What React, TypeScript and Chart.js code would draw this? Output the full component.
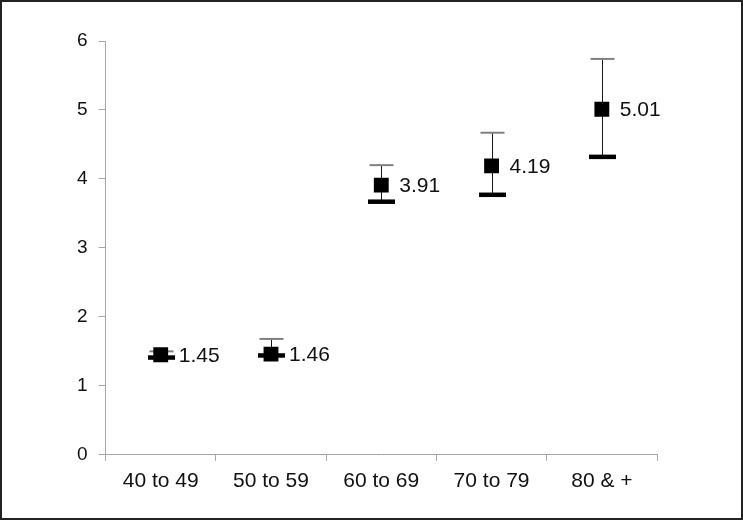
import React, { useEffect, useRef } from "react";
import { Chart, registerables } from "chart.js";

Chart.register(...registerables);

const categories = ["40 to 49", "50 to 59", "60 to 69", "70 to 79", "80 & +"];
const means = [1.45, 1.46, 3.91, 4.19, 5.01];
const upperValues = [1.5, 1.68, 4.2, 4.67, 5.74];
const lowerValues = [1.41, 1.44, 3.67, 3.77, 4.32];
const yTicks = [0, 1, 2, 3, 4, 5, 6];

const FONT = "'Liberation Sans', Arial, Helvetica, sans-serif";

const errorBarPlugin = {
  id: "errorBars",
  beforeDatasetsDraw(chart: any) {
    const { ctx, scales } = chart;
    const xs = scales.x;
    const ys = scales.y;
    ctx.save();
    categories.forEach((_, i) => {
      const x = Math.round(xs.getPixelForValue(i)) + 0.5;
      const yu = ys.getPixelForValue(upperValues[i]);
      const yl = ys.getPixelForValue(lowerValues[i]);
      ctx.strokeStyle = "#1a1a1a";
      ctx.lineWidth = 1;
      ctx.beginPath();
      ctx.moveTo(x, yu);
      ctx.lineTo(x, yl);
      ctx.stroke();
      ctx.strokeStyle = "#808080";
      ctx.lineWidth = 2;
      ctx.beginPath();
      ctx.moveTo(x - 12, yu);
      ctx.lineTo(x + 12, yu);
      ctx.stroke();
      ctx.strokeStyle = "#000000";
      ctx.lineWidth = 4.5;
      ctx.beginPath();
      ctx.moveTo(x - 13.5, yl);
      ctx.lineTo(x + 13.5, yl);
      ctx.stroke();
    });
    ctx.restore();
  },
  afterDatasetsDraw(chart: any) {
    const { ctx, scales } = chart;
    ctx.save();
    ctx.fillStyle = "#111111";
    ctx.font = `21px ${FONT}`;
    ctx.textAlign = "left";
    ctx.textBaseline = "middle";
    means.forEach((v, i) => {
      const x = scales.x.getPixelForValue(i);
      const y = scales.y.getPixelForValue(v);
      ctx.fillText(v.toFixed(2), x + 18, y + 1);
    });
    ctx.restore();
  },
};

export default function App() {
  const ref = useRef<HTMLCanvasElement>(null);
  useEffect(() => {
    const chart = new Chart(ref.current as HTMLCanvasElement, {
      type: "line",
      data: {
        labels: categories,
        datasets: [
          {
            data: means,
            showLine: false,
            pointStyle: "rect",
            pointRadius: 10.5,
            pointHoverRadius: 10.5,
            pointBackgroundColor: "#000000",
            pointBorderColor: "#000000",
            pointBorderWidth: 0,
          },
        ],
      },
      plugins: [errorBarPlugin],
      options: {
        responsive: false,
        animation: false,
        events: [],
        layout: { padding: { left: 66, right: 86, top: 41, bottom: 18 } },
        plugins: { legend: { display: false }, tooltip: { enabled: false } },
        scales: {
          x: {
            type: "category",
            offset: true,
            grid: {
              offset: true,
              display: true,
              drawOnChartArea: false,
              tickLength: 6,
              color: "#a6a6a6",
            },
            border: { color: "#a6a6a6", width: 1 },
            ticks: {
              color: "#111111",
              font: { family: FONT, size: 21 },
              padding: 8,
              maxRotation: 0,
            },
          },
          y: {
            type: "linear",
            min: 0,
            max: 6,
            afterBuildTicks: (axis: any) => {
              axis.ticks = yTicks.map((v) => ({ value: v }));
            },
            grid: {
              display: true,
              drawOnChartArea: false,
              tickLength: 7,
              color: "#a6a6a6",
            },
            border: { color: "#a6a6a6", width: 1 },
            ticks: {
              color: "#111111",
              font: { family: FONT, size: 19 },
              padding: 11,
            },
          },
        },
      },
    });
    return () => chart.destroy();
  }, []);
  return (
    <div style={{ position: "fixed", left: 0, top: 0, width: 743, height: 520, background: "#ffffff" }}>
      <canvas ref={ref} width={743} height={520} style={{ display: "block" }} />
      <div
        style={{
          position: "absolute",
          left: 0,
          top: 0,
          width: 743,
          height: 520,
          boxSizing: "border-box",
          border: "2px solid #222222",
          pointerEvents: "none",
        }}
      />
    </div>
  );
}
